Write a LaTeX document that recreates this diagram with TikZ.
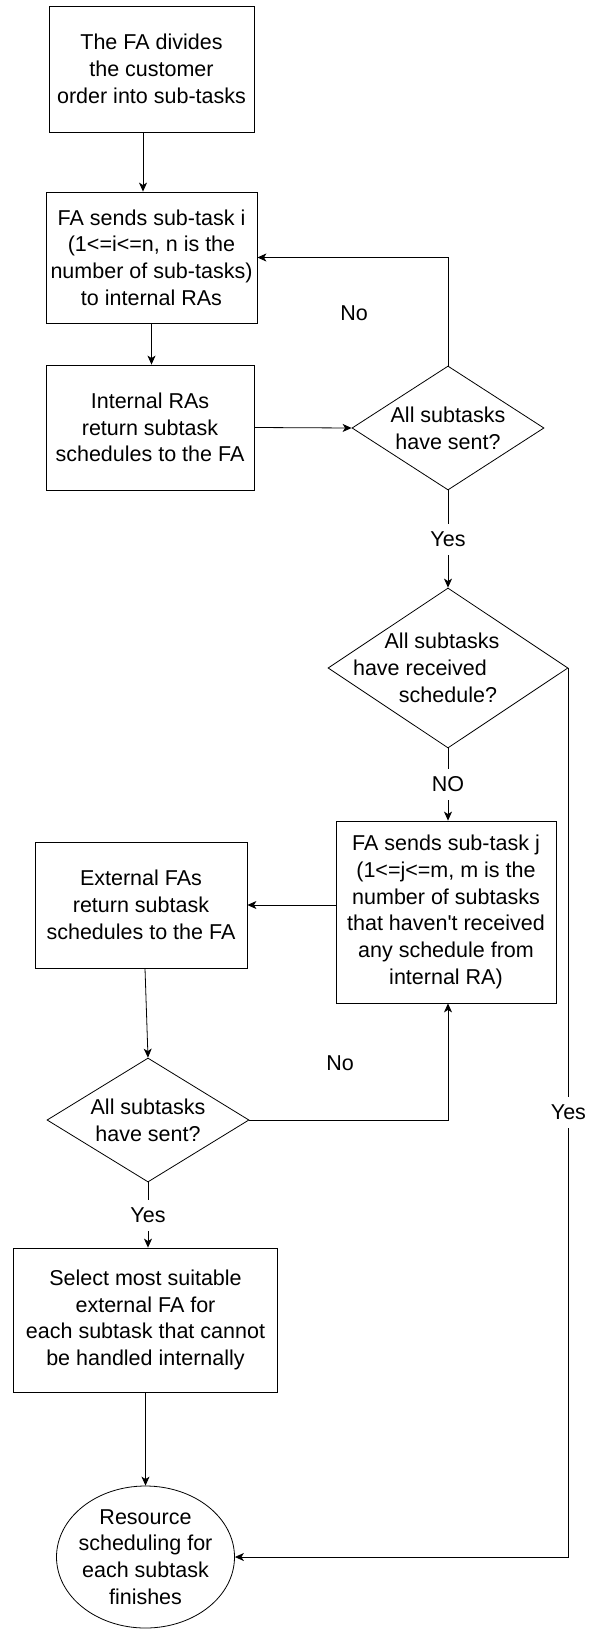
\documentclass[tikz,border=0pt]{standalone}
\usepackage{fontspec}
\setmainfont{Liberation Sans}
\usetikzlibrary{arrows.meta,shapes.geometric}

\begin{document}
\begin{tikzpicture}[x=1pt,y=-1pt,>={Stealth[length=9pt,width=8pt,inset=2.5pt]},
  font=\fontsize{21.5}{26.7}\selectfont, line width=.8pt,
  box/.style={draw,align=center,inner sep=0pt},
  decision/.style={draw,diamond,align=center,inner sep=0pt},
  lbl/.style={fill=white,inner xsep=2pt,inner ysep=8pt}]
\useasboundingbox (0,0) rectangle (595,1629);
% process boxes
\node[box,minimum width=205pt,minimum height=126pt] (divide) at (151.5,69) {The FA divides\\the customer\\order into sub-tasks};
\node[box,minimum width=211pt,minimum height=131pt] (sendint) at (151.5,257.5) {FA sends sub-task i\\(1<=i<=n, n is the\\number of sub-tasks)\\to internal RAs};
\node[box,minimum width=208pt,minimum height=125pt] (retint) at (150,427.5) {Internal RAs\\return subtask\\schedules to the FA};
\node[decision,aspect=1.55,minimum width=192pt,minimum height=124pt] (checksent) at (448,428) {All subtasks\\have sent?};
\node[decision,aspect=1.5,minimum width=240pt,minimum height=160pt] (checkrecv) at (448,668) {\kern-6pt All subtasks\kern6pt\\\kern-28pt have received\kern28pt\\schedule?};
\node[box,minimum width=220pt,minimum height=182pt] (sendext) at (446,912) {FA sends sub-task j\\(1<=j<=m, m is the\\number of subtasks\\that haven\textquotesingle t received\\any schedule from\\internal RA)};
\node[box,minimum width=212pt,minimum height=126pt] (retext) at (141,905) {External FAs\\return subtask\\schedules to the FA};
\node[decision,aspect=1.63,minimum width=202pt,minimum height=124pt] (checkext) at (148,1120) {All subtasks\\have sent?};
\node[box,minimum width=264pt,minimum height=144pt] (select) at (145.5,1320) {Select most suitable\\external FA for\\each subtask that cannot\\be handled internally};
\node[draw,ellipse,align=center,inner xsep=-4pt,inner ysep=0pt,minimum width=176pt,minimum height=142pt] (finish) at (145.5,1557) {Resource\\scheduling for\\each subtask\\finishes};
% free labels
\node (noint) at (354,313) {No};
\node (noext) at (340,1063) {No};
% connectors
\draw[->] ([xshift=-8.5pt]divide.south) -- ([xshift=-8.5pt]divide.south |- sendint.north);
\draw[->] (sendint.south) -- (sendint.south |- retint.north);
\draw[->] (retint.east) -- (checksent.west);
\draw[->] (checksent.north) |- (sendint.east);
\draw[->] (checksent.south) -- node[lbl] {Yes} (checkrecv.north);
\draw[->] (checkrecv.south) -- node[lbl] {NO} (checkrecv.south |- sendext.north);
\draw[->] (sendext.west |- retext.east) -- (retext.east);
\draw[->] ([xshift=4pt]retext.south) -- (checkext.north);
\draw[->] (checkext.east) -| (checkrecv.south |- sendext.south);
\draw[->] (checkext.south) -- node[lbl] {Yes} (checkext.south |- select.north);
\draw[->] (select.south) -- (finish.north);
\draw[->] (checkrecv.east) |- node[lbl,pos=.25] {Yes} (finish.east);
\end{tikzpicture}
\end{document}
